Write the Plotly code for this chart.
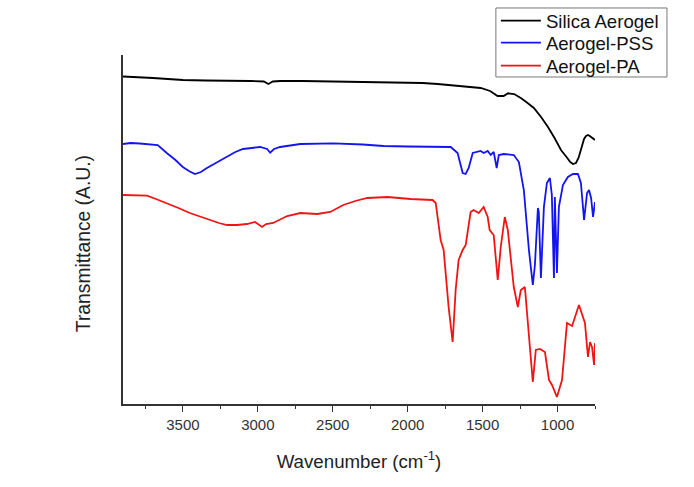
import plotly.graph_objects as go

# Wavenumber (cm^-1) and transmittance (arbitrary units)
silica_x = [3900, 3800, 3700, 3600, 3500, 3350, 3200, 3050, 2960, 2930, 2900, 2850, 2700, 2500,
            2300, 2048, 1900, 1800, 1650, 1513, 1450, 1400, 1360, 1330, 1290, 1245, 1200, 1158,
            1110, 1064, 1020, 977, 940, 915, 897, 877, 860, 840, 823, 810, 797, 785, 770, 750]
silica_y = [327.5, 327, 326, 325, 324, 323.5, 323.5, 323, 322.5, 320, 322.5, 323, 323, 322.5,
            322, 321.7, 321, 320, 318, 316, 313, 308, 308, 310.7, 310, 306, 301, 296,
            287, 277, 266, 254, 247, 242, 240, 241, 246, 256, 265, 268, 269, 268, 266, 264]

pss_x = [3900, 3850, 3788, 3720, 3668, 3608, 3550, 3501, 3460, 3420, 3380, 3340, 3270, 3206,
         3150, 3099, 3040, 2985, 2938, 2918, 2892, 2851, 2717, 2600, 2496, 2300, 2162, 2000,
         1827, 1713, 1667, 1633, 1613, 1593, 1566, 1513, 1493, 1466, 1446, 1426, 1406, 1392,
         1359, 1292, 1258, 1225, 1191, 1165, 1151, 1131, 1125, 1111, 1091, 1071, 1051, 1038,
         1024, 1018, 1004, 991, 964, 931, 897, 864, 844, 823, 803, 790, 776, 763, 750]
pss_y = [260, 261, 260.5, 260, 259, 251, 244, 237, 233, 230, 232, 236, 242, 247,
         252, 255, 256, 257, 255, 251.3, 255, 257, 260, 260.5, 260.7, 259.5, 258, 257.5,
         257, 257, 251, 231, 230, 236, 251, 253, 251, 253, 249, 252, 236, 249,
         250, 249, 242, 214, 154, 119, 139, 196, 192, 126, 197, 221, 226, 209,
         126, 207, 131, 197, 219, 227, 230, 230, 221, 184, 211, 214, 206, 187, 202]

pa_x = [3900, 3800, 3740, 3680, 3608, 3530, 3454, 3380, 3320, 3260, 3206, 3140, 3072, 3019,
        2972, 2945, 2898, 2850, 2804, 2717, 2604, 2517, 2430, 2350, 2269, 2135, 1981, 1834,
        1813, 1780, 1760, 1727, 1700, 1680, 1660, 1633, 1613, 1580, 1560, 1526, 1493, 1466,
        1453, 1426, 1399, 1379, 1352, 1332, 1292, 1265, 1245, 1218, 1198, 1165, 1145, 1118,
        1084, 1057, 1037, 1004, 970, 937, 903, 857, 817, 797, 783, 770, 756, 750]
pa_y = [209, 209, 208.3, 205, 201, 196, 191, 187, 184, 181, 179, 179, 180, 182,
        177, 180, 181, 185, 188, 191, 190, 192, 199, 203, 206, 207, 205, 204,
        201, 164, 154, 97, 62, 114, 144, 154, 159, 192, 194, 191, 197, 187,
        174, 169, 124, 157, 187, 174, 117, 97, 114, 117, 84, 22, 54, 55,
        52, 24, 19, 7, 24, 81, 78, 99, 81, 47, 62, 57, 39, 61]

series = [
    ("Silica Aerogel", silica_x, silica_y, "#000000"),
    ("Aerogel-PSS", pss_x, pss_y, "#1414f0"),
    ("Aerogel-PA", pa_x, pa_y, "#f01414"),
]

FONT = "Arial, Liberation Sans, sans-serif"
legend_names = ["legend", "legend2", "legend3"]
legend_y = [1.0974, 1.0344, 0.9685]

fig = go.Figure()
for (name, xs, ys, col), lg in zip(series, legend_names):
    fig.add_trace(go.Scatter(x=xs, y=ys, mode="lines", name=name, legend=lg,
                             line=dict(color=col, width=1.8)))

layout_legends = {}
for lg, ly in zip(legend_names, legend_y):
    layout_legends[lg] = dict(x=0.79, y=ly, xanchor="left", yanchor="middle",
                              bgcolor="rgba(0,0,0,0)", borderwidth=0,
                              font=dict(size=18.6, family=FONT, color="#111111"),
                              itemwidth=40)

fig.update_layout(
    width=694, height=487,
    margin=dict(l=123, r=99, t=55, b=83, autoexpand=False),
    paper_bgcolor="white", plot_bgcolor="white",
    font=dict(family=FONT, color="#222222"),
    showlegend=True,
    shapes=[dict(type="rect", xref="paper", yref="paper",
                 x0=0.790, x1=1.1525, y0=0.937, y1=1.1347,
                 line=dict(color="#777777", width=1), fillcolor="rgba(0,0,0,0)",
                 layer="below")],
    annotations=[dict(text="Transmittance (A.U.)", xref="paper", yref="paper",
                      x=-0.0847, y=0.458, textangle=-90, showarrow=False,
                      xanchor="center", yanchor="middle",
                      font=dict(size=19.3, family=FONT, color="#222222"))],
    **layout_legends,
)
fig.update_xaxes(
    range=[3900, 750], showgrid=False, zeroline=False,
    showline=True, linecolor="#333333", linewidth=1.5,
    ticks="outside", ticklen=6, tickwidth=1.2, tickcolor="#333333",
    tickvals=[3500, 3000, 2500, 2000, 1500, 1000],
    tickfont=dict(size=15, family=FONT, color="#333333"),
    minor=dict(tickvals=[3750, 3250, 2750, 2250, 1750, 1250, 750], ticks="outside",
               ticklen=3, tickwidth=1.2, tickcolor="#333333"),
    title=dict(text="Wavenumber (cm<sup>-1</sup>)", font=dict(size=18.7, family=FONT, color="#222222"),
               standoff=23),
)
fig.update_yaxes(
    range=[0, 349], showgrid=False, zeroline=False,
    showline=True, linecolor="#333333", linewidth=1.5,
    showticklabels=False, ticks="",
)

fig.write_html("out.html")
